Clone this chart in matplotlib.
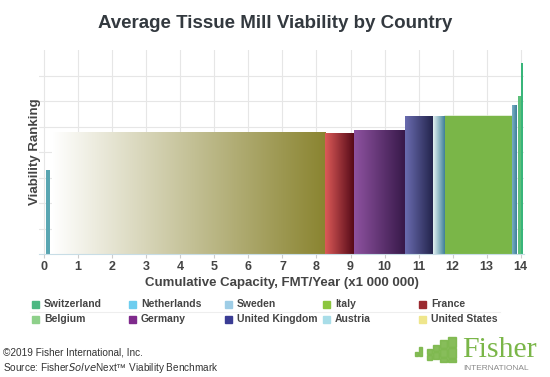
import numpy as np
import matplotlib.pyplot as plt
from matplotlib.colors import LinearSegmentedColormap
from matplotlib.patches import Rectangle

plt.rcParams['font.family'] = ['Liberation Sans', 'DejaVu Sans']

# country blocks along the cumulative capacity axis (x1 000 000 FMT/yr)
countries = ["Sweden", "United States", "France", "Germany", "United Kingdom",
             "Austria", "Italy", "Netherlands", "Belgium", "Switzerland"]
x_start = [0.04, 0.22, 8.24, 9.09, 10.60, 11.42, 11.75, 13.75, 13.91, 14.00]
x_end = [0.17, 8.24, 9.09, 10.60, 11.42, 11.75, 13.73, 13.89, 14.00, 14.06]
ranking = [3.30, 4.77, 4.75, 4.85, 5.41, 5.41, 5.46, 5.84, 6.20, 7.50]
# gradient (left colour, right colour) for each block
shades = [("#5aa6b2", "#5aa6b2"), ("#ffffff", "#8a8430"), ("#dc5a58", "#560a18"),
          ("#8e52a0", "#361848"), ("#6a6cb0", "#23244c"), ("#e4f2f2", "#3e7f98"),
          ("#7ab648", "#7ab648"), ("#7ab0c6", "#3f7f9a"), ("#5cbf7a", "#5cbf7a"),
          ("#38b57a", "#38b57a")]

# legend, row by row
legend_names = ["Switzerland", "Netherlands", "Sweden", "Italy", "France",
                "Belgium", "Germany", "United Kingdom", "Austria", "United States"]
legend_colors = ["#4cb882", "#6dcdef", "#9ecde6", "#8cc63f", "#9b2a30",
                 "#8ed08a", "#7f2a8c", "#3a3c94", "#a8dde8", "#efe68c"]

xticks = list(range(0, 15))

fig = plt.figure(figsize=(5.5, 3.77), dpi=100)
ax = fig.add_axes([0.071, 0.326, 0.882, 0.541])

grad = np.linspace(0, 1, 256).reshape(1, -1)
for x0, x1, h, (c0, c1) in zip(x_start, x_end, ranking, shades):
    lw = 0.4 if x1 - x0 > 0.3 else 0
    bar = ax.bar(x0, h, width=x1 - x0, align="edge", color=c1,
                 edgecolor="white", linewidth=lw, zorder=2)[0]
    if c0 != c1:
        cmap = LinearSegmentedColormap.from_list("g", [c0, c1])
        im = ax.imshow(grad, extent=[x0, x1, 0, h], aspect="auto",
                       cmap=cmap, zorder=2.5, interpolation="bilinear")
        im.set_clip_path(bar)

ax.set_xlim(-0.15, 14.1)
ax.set_ylim(0, 8)
ax.set_xticks(xticks)
ax.set_yticks(range(1, 8))
ax.set_yticklabels([])
ax.grid(True, color="#e6e6e6", linewidth=0.8, zorder=0)
ax.set_axisbelow(True)
for s in ["top", "right", "left"]:
    ax.spines[s].set_visible(False)
ax.spines["bottom"].set_color("#c8dde6")
ax.tick_params(axis="y", length=0)
ax.tick_params(axis="x", length=3, color="#cccccc", labelsize=9,
               labelcolor="#444444", pad=2)
for t in ax.get_xticklabels():
    t.set_fontweight("bold")

ax.set_xlabel("Cumulative Capacity, FMT/Year (x1 000 000)", fontsize=9.5,
              fontweight="bold", color="#444444", labelpad=3)
ax.set_ylabel("Viability Ranking", fontsize=9.5, fontweight="bold",
              color="#444444", labelpad=-5)
fig.text(0.5, 0.938, "Average Tissue Mill Viability by Country", ha="center",
         va="center", fontsize=13.5, fontweight="bold", color="#33393f")

# legend drawn by hand on a fixed grid
col_px = [32, 129, 225, 323, 419]
row_px = [304, 319]
for i, (name, col) in enumerate(zip(legend_names, legend_colors)):
    px = col_px[i % 5]
    py = row_px[i // 5]
    fig.patches.append(Rectangle((px / 550, 1 - (py + 3.5) / 377), 7 / 550,
                                 7 / 377, transform=fig.transFigure, color=col))
    fig.text((px + 12) / 550, 1 - py / 377, name, fontsize=7.5,
             fontweight="bold", color="#444444", va="center")
fig.add_artist(plt.Line2D([30 / 550, 500 / 550], [1 - 312 / 377] * 2,
                          color="#eeeeee", linewidth=0.8))

# footer
fig.text(0.006, 0.065, "\u00a92019 Fisher International, Inc.", fontsize=7.2,
         color="#333333", va="center")
fig.text(0.006, 0.025, "Source: Fisher$\\it{Solve}$Next\u2122 Viability Benchmark",
         fontsize=7.2, color="#333333", va="center")

# logo
fig.text(462 / 550, 1 - 357 / 377, "Fisher", fontsize=21.5,
         family="Liberation Serif", color="#7ab648", va="baseline")
fig.text(463 / 550, 1 - 370 / 377, "INTERNATIONAL", fontsize=6,
         color="#8a8a8a", va="baseline")
logo_blocks = [(415, 352, 3, 4), (419, 347, 3, 9), (427, 349, 5, 5),
               (427, 355, 5, 5), (433, 345, 6, 6), (433, 352, 6, 7),
               (440, 340, 7, 8), (440, 349, 7, 8), (440, 358, 7, 4),
               (448, 337, 8, 10), (448, 348, 8, 10), (448, 359, 8, 3)]
for bx, by, bw, bh in logo_blocks:
    fig.patches.append(Rectangle((bx / 550, 1 - (by + bh) / 377), bw / 550,
                                 bh / 377, transform=fig.transFigure,
                                 color="#7ab648", alpha=0.9))

fig.savefig("out.png", dpi=100)
